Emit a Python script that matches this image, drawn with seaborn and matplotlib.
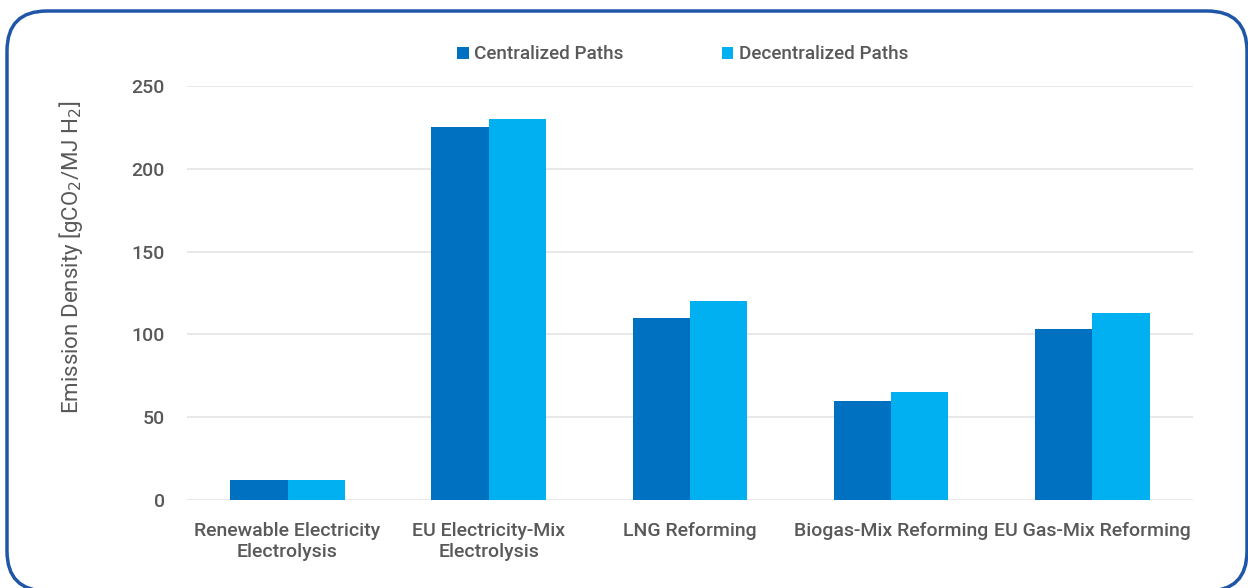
import numpy as np
import pandas as pd
import matplotlib
matplotlib.use("Agg")
import matplotlib.pyplot as plt
import seaborn as sns
from matplotlib.patches import FancyBboxPatch

categories = ["Renewable Electricity\nElectrolysis", "EU Electricity-Mix\nElectrolysis",
              "LNG Reforming", "Biogas-Mix Reforming", "EU Gas-Mix Reforming"]
centralized = [12, 225, 110, 60, 103]
decentralized = [12, 230, 120, 65, 113]
series = ["Centralized Paths", "Decentralized Paths"]

df = pd.DataFrame({
    "category": categories * 2,
    "value": centralized + decentralized,
    "path": [series[0]] * len(categories) + [series[1]] * len(categories),
})

sns.set_theme(style="white")
plt.rcParams["font.family"] = ["Roboto", "DejaVu Sans"]
plt.rcParams["font.weight"] = "medium"

text_col = "#595959"
fig = plt.figure(figsize=(12.48, 5.88), dpi=100)
ax = fig.add_axes([0.1498, 0.1497, 0.806, 0.704])

sns.barplot(data=df, x="category", y="value", hue="path", order=categories,
            hue_order=series, palette=["#0070C0", "#00B0F0"], width=0.57,
            gap=0, saturation=1, linewidth=0, ax=ax, legend=True)

ax.set_xlim(-0.5, 4.5)
ax.set_ylim(0, 250)
ax.set_yticks(range(0, 251, 50))
ax.yaxis.grid(True, color="#e4e4e4", linewidth=1.2)
ax.set_axisbelow(True)
for s in ax.spines.values():
    s.set_visible(False)
ax.tick_params(axis="both", length=0, colors=text_col, labelsize=14)
ax.tick_params(axis="y", pad=16)
ax.tick_params(axis="x", pad=16)
ax.set_xlabel("")
ax.set_ylabel("Emission Density [gCO$_2$/MJ H$_2$]", color=text_col, fontsize=16)
ax.yaxis.set_label_coords(-0.101, 0.587)

leg = ax.legend(loc="lower center", bbox_to_anchor=(0.493, 1.014), ncol=2, frameon=False,
                fontsize=13.6, handlelength=0.6, handleheight=0.6, handletextpad=0.3,
                columnspacing=5.2)
for t in leg.get_texts():
    t.set_color(text_col)

border = FancyBboxPatch((7 / 1248, -3 / 588), 1240 / 1248, 580 / 588,
                        boxstyle="round,pad=0,rounding_size=0.032",
                        transform=fig.transFigure, fill=False,
                        edgecolor="#1F56A8", linewidth=2.5, clip_on=False,
                        mutation_aspect=1248 / 588)
fig.patches.append(border)

fig.savefig("out.png", dpi=100)
